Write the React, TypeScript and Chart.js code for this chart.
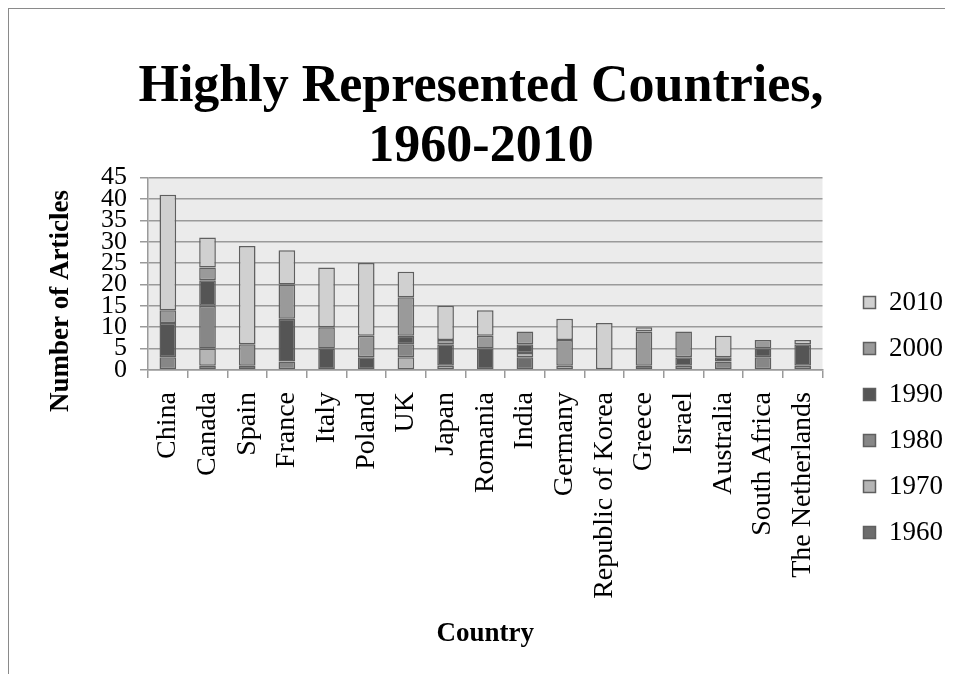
import React, { useEffect, useRef } from "react";
import { Chart, registerables } from "chart.js";

Chart.register(...registerables);

const countries = [
  "China", "Canada", "Spain", "France", "Italy", "Poland", "UK", "Japan",
  "Romania", "India", "Germany", "Republic of Korea", "Greece", "Israel",
  "Australia", "South Africa", "The Netherlands",
];

const years = ["1960", "1970", "1980", "1990", "2000", "2010"];

const v1960 = [0, 1, 0, 0, 0, 0, 0, 0, 0, 3, 0, 0, 0, 0, 0, 0, 0];
const v1970 = [0, 4, 0, 0, 0, 0, 3, 1, 0, 1, 1, 0, 0, 0, 0, 0, 0];
const v1980 = [3, 10, 0, 2, 0, 0, 3, 0, 0, 0, 0, 0, 0, 1, 2, 3, 1];
const v1990 = [8, 6, 1, 10, 5, 3, 2, 5, 5, 2, 0, 0, 1, 2, 1, 2, 5];
const v2000 = [3, 3, 5, 8, 5, 5, 9, 1, 3, 3, 6, 0, 8, 6, 0, 2, 0];
const v2010 = [27, 7, 23, 8, 14, 17, 6, 8, 6, 0, 5, 11, 1, 0, 5, 0, 1];

const yMin = 0;
const yMax = 45;
const yStep = 5;

const titleLines = ["Highly Represented Countries,", "1960-2010"];
const yTitle = "Number of Articles";
const xTitle = "Country";

const seriesValues = [v1960, v1970, v1980, v1990, v2000, v2010];
const seriesColors = ["#6d6d6d", "#b5b5b5", "#878787", "#555555", "#9a9a9a", "#d0d0d0"];

const FONT = "'Liberation Serif', 'Times New Roman', serif";

export default function App() {
  const ref = useRef<HTMLCanvasElement | null>(null);

  useEffect(() => {
    if (!ref.current) return;
    const plotBg = {
      id: "plotBg",
      beforeDraw(chart: any) {
        const { ctx, chartArea: a } = chart;
        ctx.save();
        ctx.fillStyle = "#ebebeb";
        ctx.fillRect(a.left, a.top, a.right - a.left, a.bottom - a.top);
        ctx.restore();
      },
    };
    const yTitlePlugin = {
      id: "yTitle",
      afterDraw(chart: any) {
        const { ctx } = chart;
        ctx.save();
        ctx.translate(52, 292);
        ctx.rotate(-Math.PI / 2);
        ctx.font = `bold 27px ${FONT}`;
        ctx.fillStyle = "#000";
        ctx.textAlign = "center";
        ctx.textBaseline = "middle";
        ctx.fillText(yTitle, 0, 0);
        ctx.restore();
      },
    };
    const chart = new Chart(ref.current, {
      type: "bar",
      data: {
        labels: countries,
        datasets: years.map((y, i) => ({
          label: y,
          data: seriesValues[i],
          backgroundColor: seriesColors[i],
          borderColor: "#5f5f5f",
          borderWidth: 1.5,
          borderSkipped: false,
          categoryPercentage: 1,
          barPercentage: 0.42,
          xAxisID: "x",
          yAxisID: "y",
        })),
      },
      options: {
        animation: false,
        responsive: false,
        layout: { padding: 0 },
        plugins: {
          tooltip: { enabled: false },
          title: {
            display: true,
            text: titleLines,
            color: "#000",
            font: { family: FONT, size: 52, weight: "bold", lineHeight: 1.15 },
            padding: { top: 49, bottom: 0 },
          },
          legend: {
            position: "right",
            reverse: true,
            title: {
              display: true,
              text: " ",
              font: { size: 12, lineHeight: 1 },
              padding: { top: 140, bottom: 0 },
            },
            labels: {
              color: "#000",
              font: { family: FONT, size: 27 },
              boxWidth: 12,
              boxHeight: 12,
              padding: 19,
            },
          },
        },
        scales: {
          x: {
            stacked: true,
            position: "bottom",
            grid: {
              display: true,
              drawOnChartArea: false,
              drawTicks: true,
              tickLength: 8,
              offset: true,
              color: "#9a9a9a",
              lineWidth: 1.5,
            },
            border: { display: true, color: "#9a9a9a", width: 1.5 },
            ticks: {
              color: "#000",
              font: { family: FONT, size: 28 },
              minRotation: 90,
              maxRotation: 90,
              autoSkip: false,
              padding: 14,
            },
            title: {
              display: true,
              text: xTitle,
              color: "#000",
              font: { family: FONT, size: 27, weight: "bold" },
              padding: { top: 10, bottom: 24 },
            },
            afterFit(s: any) {
              s.height = 304;
            },
          },
          y: {
            stacked: true,
            position: "left",
            min: yMin,
            max: yMax,
            grid: {
              color: "#9a9a9a",
              lineWidth: 1.5,
              drawTicks: true,
              tickLength: 8,
            },
            border: { display: true, color: "#9a9a9a", width: 1.5 },
            ticks: {
              stepSize: yStep,
              autoSkip: false,
              color: "#000",
              font: { family: FONT, size: 26, lineHeight: 1 },
              padding: 13,
            },
            title: { display: false },
            afterFit(s: any) {
              s.width = 139;
            },
          },
          gap: {
            type: "linear",
            position: "right",
            display: true,
            grid: { display: false, drawTicks: false },
            border: { display: false },
            ticks: { display: false },
            afterFit(s: any) {
              s.width = 22;
            },
          },
        },
      } as any,
      plugins: [plotBg, yTitlePlugin],
    });
    return () => chart.destroy();
  }, []);

  return (
    <div
      style={{
        width: 944,
        height: 665,
        borderTop: "1px solid #8a8a8a",
        borderLeft: "1px solid #8a8a8a",
        background: "#fff",
      }}
    >
      <canvas ref={ref} width={944} height={665} style={{ display: "block" }} />
    </div>
  );
}
